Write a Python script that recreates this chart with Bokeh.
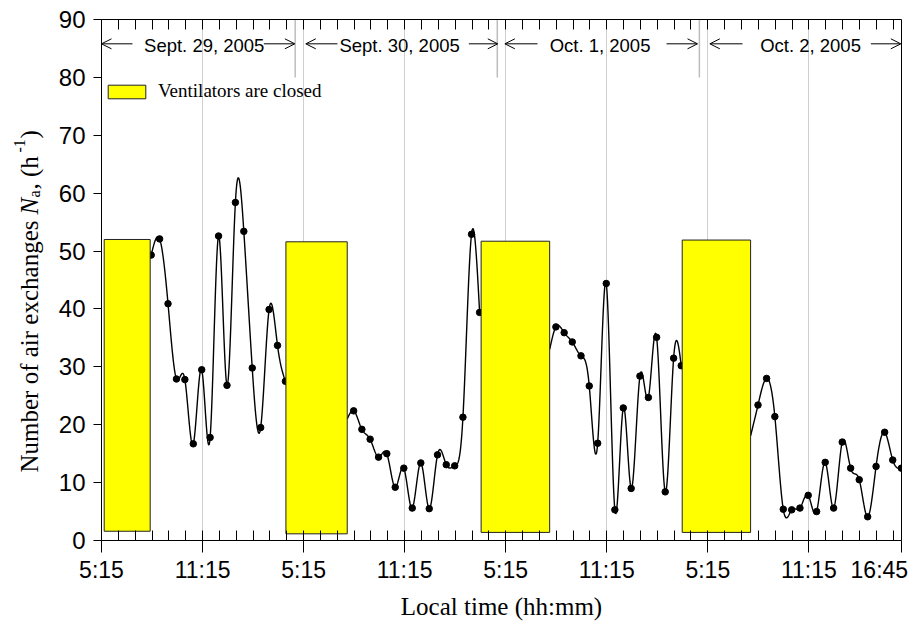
import numpy as np
from bokeh.plotting import figure
from bokeh.layouts import row
from bokeh.models import (Range1d, FixedTicker, LinearAxis, Arrow, OpenHead,
                          Legend, LegendItem, ColumnDataSource)
from bokeh.core.properties import value
from bokeh.embed import file_html
from bokeh.resources import INLINE

# x axis: hours counted from 5:15 on a concatenated (12 h per day) time axis
tick_pos = [0, 6, 12, 18, 24, 30, 36, 42, 47.5]
tick_labels = ["5:15", "11:15", "5:15", "11:15", "5:15", "11:15", "5:15", "11:15", "16:45"]
y_ticks = [0, 10, 20, 30, 40, 50, 60, 70, 80, 90]

# days
day_names = ["Sept. 29, 2005", "Sept. 30, 2005", "Oct. 1, 2005", "Oct. 2, 2005"]
day_bounds = [11.5, 23.5, 35.5]

# periods with ventilators closed
vent_start = [0.16, 10.95, 22.54, 34.48]
vent_end = [2.89, 14.59, 26.61, 38.54]
vent_bottom = [1.6, 1.15, 1.4, 1.4]
vent_top = [52.0, 51.6, 51.7, 51.9]

# measured air exchange rates, four open-ventilator segments
t_a = [2.95, 3.45, 3.95, 4.45, 4.95, 5.45, 5.95, 6.45, 6.95, 7.45, 7.95, 8.45, 8.95, 9.45, 9.95, 10.45, 10.92]
n_a = [49.3, 52.1, 40.9, 27.9, 27.8, 16.7, 29.5, 17.8, 52.6, 26.8, 58.4, 53.4, 29.8, 19.5, 39.9, 33.7, 27.5]

t_b = [14.97, 15.46, 15.95, 16.45, 16.94, 17.44, 17.95, 18.45, 18.96, 19.46, 19.95, 20.47, 20.97, 21.46, 21.97, 22.45]
n_b = [22.4, 19.2, 17.5, 14.4, 15.0, 9.2, 12.5, 5.6, 13.4, 5.5, 14.8, 13.1, 12.9, 21.3, 52.9, 39.4]

t_c = [26.98, 27.47, 27.95, 28.47, 28.96, 29.46, 29.97, 30.48, 30.98, 31.45, 31.97, 32.47, 32.96, 33.47, 33.97, 34.42]
n_c = [36.9, 35.9, 34.3, 31.9, 26.7, 16.8, 44.4, 5.3, 22.9, 9.0, 28.4, 24.7, 35.1, 8.4, 31.5, 30.2]

t_d = [38.98, 39.49, 39.98, 40.48, 40.98, 41.47, 41.96, 42.46, 42.97, 43.47, 43.98, 44.48, 44.99, 45.49, 45.99, 46.5, 46.98, 47.49]
n_d = [23.4, 28.0, 21.4, 5.4, 5.3, 5.6, 7.8, 5.0, 13.5, 5.6, 17.0, 12.5, 10.5, 4.1, 12.8, 18.7, 13.9, 12.5]

# value of the curve where it emerges from behind a yellow box (segments b, c, d)
entry_t = [14.59, 26.61, 38.54]
entry_n = [21.0, 33.0, 18.1]

SANS = "Liberation Sans"
SERIF = "Liberation Serif"
NBSP = "\u00a0"


def spline_path(xs, ys, n=20):
    x = np.asarray(xs, float)
    y = np.asarray(ys, float)
    m = len(x)
    h = np.diff(x)
    A = np.zeros((m, m))
    b = np.zeros(m)
    A[0, 0] = 1.0
    A[-1, -1] = 1.0
    for i in range(1, m - 1):
        A[i, i - 1] = h[i - 1]
        A[i, i] = 2 * (h[i - 1] + h[i])
        A[i, i + 1] = h[i]
        b[i] = 6 * ((y[i + 1] - y[i]) / h[i] - (y[i] - y[i - 1]) / h[i - 1])
    M = np.linalg.solve(A, b)
    xx, yy = [], []
    for i in range(m - 1):
        t = np.linspace(x[i], x[i + 1], n, endpoint=(i == m - 2))
        a = x[i + 1] - t
        c = t - x[i]
        s = ((M[i] * a ** 3 + M[i + 1] * c ** 3) / (6 * h[i])
             + (y[i] / h[i] - M[i] * h[i] / 6) * a
             + (y[i + 1] / h[i] - M[i + 1] * h[i] / 6) * c)
        xx.extend(t.tolist())
        yy.extend(s.tolist())
    return xx, yy


LEFT_W = 55
p = figure(width=914 - LEFT_W, height=628, x_range=Range1d(0, 47.5), y_range=Range1d(0, 90),
           output_backend="svg", toolbar_location=None,
           min_border_left=101 - LEFT_W, min_border_right=13, min_border_top=19, min_border_bottom=88,
           x_axis_location=None, y_axis_location=None)
p.outline_line_color = None
p.background_fill_color = "white"
p.border_fill_color = "white"

# bottom axis
labels_shown = list(tick_labels)
labels_shown[-1] = tick_labels[-1] + NBSP   # last label sits left of the axis end
xb = LinearAxis(ticker=FixedTicker(ticks=tick_pos, minor_ticks=list(range(0, 48))))
xb.major_label_overrides = {k: v for k, v in zip(tick_pos, labels_shown)}
xb.major_tick_out = 12
xb.major_tick_in = 0
xb.minor_tick_in = 10
xb.minor_tick_out = 0
xb.major_label_standoff = 4
xb.major_label_text_font = SANS
xb.major_label_text_font_size = "23px"
xb.major_label_text_color = "black"
xb.axis_label = "Local time (hh:mm)"
xb.axis_label_text_font = SERIF
xb.axis_label_text_font_style = "normal"
xb.axis_label_text_font_size = "25px"
xb.axis_label_standoff = 7
xb.axis_label_text_color = "black"
xb.axis_line_color = "black"
xb.major_tick_line_color = "black"
xb.minor_tick_line_color = "black"
p.add_layout(xb, "below")

# top frame line with inward ticks
xtop = LinearAxis(ticker=FixedTicker(ticks=[], minor_ticks=list(range(0, 48))))
xtop.minor_tick_in = 10
xtop.minor_tick_out = 0
xtop.major_tick_out = 0
xtop.major_label_standoff = 0
xtop.axis_line_color = "black"
p.add_layout(xtop, "above")

yl = LinearAxis(ticker=FixedTicker(ticks=y_ticks, minor_ticks=[]))
yl.major_tick_out = 8
yl.major_tick_in = 0
yl.minor_tick_out = 0
yl.major_label_standoff = 8
yl.major_label_text_font = SANS
yl.major_label_text_font_size = "24px"
yl.major_label_text_color = "black"
yl.axis_line_color = "black"
p.add_layout(yl, "left")

yr = LinearAxis(ticker=FixedTicker(ticks=[], minor_ticks=[]))
yr.major_tick_out = 0
yr.major_label_standoff = 0
yr.axis_line_color = "black"
p.add_layout(yr, "right")

p.xgrid.ticker = FixedTicker(ticks=tick_pos[1:-1])
p.xgrid.grid_line_color = "#cfcfcf"
p.ygrid.grid_line_color = None

# day separators
p.segment(x0=day_bounds, x1=day_bounds, y0=[80] * 3, y1=[90] * 3,
          line_color="#bdbdbd", line_width=1.5)

# day labels with arrows
day_center = [6.1, 17.7, 29.6, 42.1]
left_in = [1.84, 14.01, 25.89, 38.06]
left_out = [0.0, 12.13, 23.95, 36.12]
right_in = [9.64, 21.81, 33.55, 45.68]
right_out = [11.48, 23.53, 35.39, 47.46]
arrow_y = 85.8
p.text(x=day_center, y=[85.5] * 4, text=day_names, text_font=value(SANS),
       text_font_size="18.5px", text_align="center", text_baseline="middle", text_color="black")
for a, b in list(zip(left_in, left_out)) + list(zip(right_in, right_out)):
    p.add_layout(Arrow(end=OpenHead(size=10, line_width=1, line_color="black"),
                       x_start=a, y_start=arrow_y, x_end=b, y_end=arrow_y,
                       line_width=1, line_color="black"))

# curves and points
segs = [(t_a, n_a, None, None), (t_b, n_b, entry_t[0], entry_n[0]),
        (t_c, n_c, entry_t[1], entry_n[1]), (t_d, n_d, entry_t[2], entry_n[2])]
for ts, ns, et, en in segs:
    cx = ([et] if et is not None else []) + list(ts)
    cy = ([en] if en is not None else []) + list(ns)
    sx, sy = spline_path(cx, cy)
    p.line(sx, sy, line_color="black", line_width=1.4)
    p.scatter(ts, ns, size=6.5, color="black")

# ventilators closed boxes
src = ColumnDataSource(dict(left=vent_start, right=vent_end, bottom=vent_bottom, top=vent_top))
vr = p.quad(left="left", right="right", bottom="bottom", top="top", source=src,
            fill_color="#ffff00", line_color="#222222", line_width=1)

leg = Legend(items=[LegendItem(label="Ventilators are closed", renderers=[vr])],
             location=(2, 438), glyph_width=47, glyph_height=17, label_height=17,
             label_standoff=8, padding=0, margin=0, spacing=0,
             border_line_color=None, background_fill_alpha=0,
             label_text_font=SERIF, label_text_font_size="19px", label_text_color="black")
p.add_layout(leg)

# y axis title, drawn in a narrow strip figure on the left.
# The strip's plot area is aligned with the main plot area (screen rows 19..540),
# so its y range is expressed as (628 - screen row).
yt = figure(width=LEFT_W, height=628, x_range=Range1d(0, LEFT_W), y_range=Range1d(628 - 540, 628 - 19),
            output_backend="svg", toolbar_location=None,
            min_border_left=0, min_border_right=0, min_border_top=19, min_border_bottom=88,
            x_axis_location=None, y_axis_location=None)
yt.outline_line_color = None
yt.xgrid.visible = False
yt.ygrid.visible = False
base_x = 29
title_parts = [
    # text, start (screen row), shift across baseline, size, style
    ("Number of air exchanges", 472, 0, "25px", "normal"),
    ("N", 214, 0, "25px", "italic"),
    ("a", 197, 5, "16px", "normal"),
    (", (h", 189, 0, "25px", "normal"),
    ("-1", 152, -10, "16px", "normal"),
    (")", 138, 0, "25px", "normal"),
]
for txt, py, dx, fs, st in title_parts:
    yt.text(x=[base_x + dx], y=[628 - py], text=[txt], angle=np.pi / 2,
            text_font=value(SERIF), text_font_size=fs, text_font_style=st,
            text_align="left", text_baseline="alphabetic", text_color="black")

layout = row(yt, p, spacing=0)
open("out.html", "w").write(file_html(layout, INLINE))
